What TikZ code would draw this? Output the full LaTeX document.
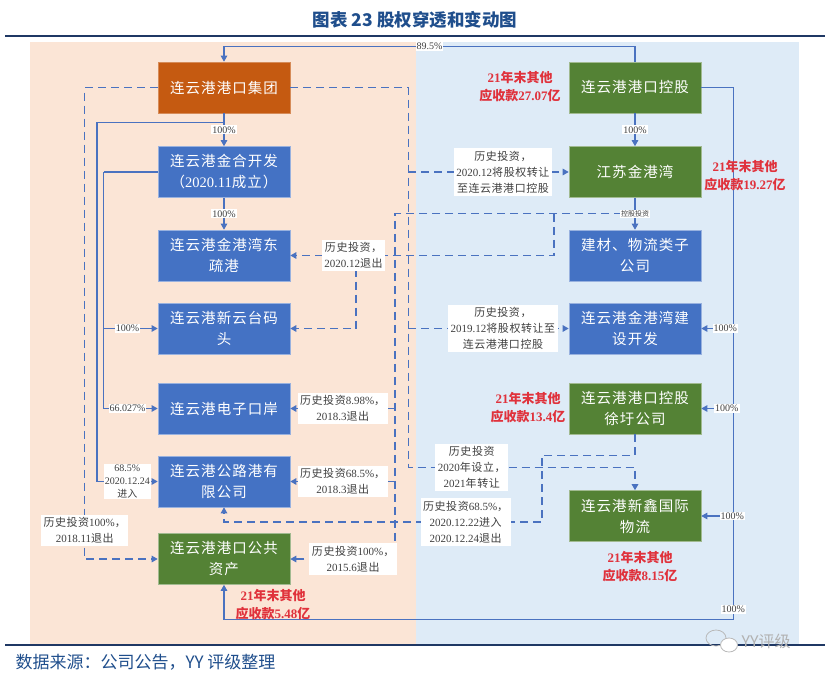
\documentclass[tikz,border=0pt]{standalone}
\usepackage{fontspec}
\setmainfont{Liberation Serif}
\setsansfont{Liberation Sans}
\newfontfamily\cjk{Noto Sans CJK SC}
\newfontfamily\cjkb{Noto Sans CJK SC}[LetterSpace=7]
\newfontfamily\cjkl{Noto Sans CJK SC}[LetterSpace=5]
\usetikzlibrary{arrows.meta,calc}
% automatic font switching for CJK characters
\newXeTeXintercharclass\CJKcls
\newcount\mycnt
\mycnt="4E00
\loop
  \XeTeXcharclass\mycnt=\CJKcls
  \ifnum\mycnt<"9FFF \advance\mycnt by 1
\repeat
\XeTeXcharclass"FF0C=\CJKcls
\XeTeXcharclass"3001=\CJKcls
\XeTeXcharclass"3002=\CJKcls
\XeTeXcharclass"FF08=\CJKcls
\XeTeXcharclass"FF09=\CJKcls
\XeTeXcharclass"FF1A=\CJKcls
\XeTeXinterchartoks 0 \CJKcls = {\cjk}
\XeTeXinterchartoks 4095 \CJKcls = {\cjk}
\XeTeXinterchartoks \CJKcls 0 = {\rmfamily}
\XeTeXinterchartoks 4095 0 = {\rmfamily}
\XeTeXinterchartokenstate=1
\definecolor{boxblue}{HTML}{4472C4}
\definecolor{boxgreen}{HTML}{548235}
\definecolor{boxorange}{HTML}{C55A11}
\definecolor{linkblue}{HTML}{4A72C0}
\definecolor{peach}{HTML}{FBE5D6}
\definecolor{paleblue}{HTML}{DEEBF7}
\definecolor{redtxt}{HTML}{E0323C}
\definecolor{navy}{HTML}{1F3864}
\definecolor{titleblue}{HTML}{1F4E8C}
\definecolor{lbltxt}{HTML}{404040}
\begin{document}
\begin{tikzpicture}[x=1pt,y=-1pt,
  ent/.style={minimum width=132pt,minimum height=51pt,inner sep=2pt,text=white,align=center,
    font=\fontsize{14.5}{21}\selectfont\let\cjk\cjkb},
  bluebox/.style={ent,fill=boxblue,draw=boxblue!55!white,line width=0.6pt},
  greenbox/.style={ent,fill=boxgreen,draw=boxgreen!55!white,line width=0.6pt},
  orangebox/.style={ent,fill=boxorange,draw=boxorange!70!white,line width=0.6pt},
  conn/.style={draw=linkblue,line width=1.1pt},
  dconn/.style={draw=linkblue,line width=1.3pt,dash pattern=on 8pt off 5pt},
  tip/.style={-{Triangle[width=6.5pt,length=6pt]}},
  lbl/.style={fill=white,inner sep=1pt,text=lbltxt,font=\fontsize{10}{13}\selectfont,align=center},
  hlbl/.style={lbl,inner sep=2.5pt,font=\fontsize{11}{16}\selectfont\let\cjk\cjkl},
  redlbl/.style={text=redtxt,font=\fontsize{13}{18}\selectfont\bfseries,align=center}
]
\useasboundingbox (0,0) rectangle (830,678);
% backgrounds and rules
\fill[peach] (30,42) rectangle (416,645);
\fill[paleblue] (416,42) rectangle (799,645);
\draw[navy,line width=2pt] (5,36) -- (825,36);
\draw[navy,line width=1.5pt] (5,645) -- (825,645);

% title and source
\node[text=titleblue] (title) at (415,20) {\XeTeXinterchartokenstate=0 \cjk\bfseries\fontsize{17.5}{20}\selectfont 图表 23 股权穿透和变动图};
\node[anchor=west,text=titleblue] (src) at (12,662) {\XeTeXinterchartokenstate=0 \cjk\fontsize{17}{20}\selectfont 数据来源：公司公告，YY 评级整理};
% watermark
\draw[gray!55,line width=0.8pt] (716,638) ellipse (10 and 8);
\draw[gray!55,line width=0.8pt,fill=white] (729,645) ellipse (8.5 and 7);
\node[anchor=west,text=gray!60] (wm) at (738,641) {\XeTeXinterchartokenstate=0 \cjk\fontsize{16}{18}\selectfont YY评级};

% boxes left
\node[orangebox] (grp)  at (224,87.5) {连云港港口集团};
\node[bluebox]   (jh)   at (224,172)  {连云港金合开发\\（2020.11成立）};
\node[bluebox]   (dsg)  at (224,255.5){连云港金港湾东\\疏港};
\node[bluebox]   (xyt)  at (224,328.5){连云港新云台码\\头};
\node[bluebox]   (dzka) at (224,408.5){连云港电子口岸};
\node[bluebox]   (glg)  at (224,481.5){连云港公路港有\\限公司};
\node[greenbox]  (ggzc) at (224,559)  {连云港港口公共\\资产};
% boxes right
\node[greenbox]  (kg)    at (635,87.5) {连云港港口控股};
\node[greenbox]  (jsjgw) at (635,172)  {江苏金港湾};
\node[bluebox]   (jc)    at (635,255.5){建材、物流类子\\公司};
\node[bluebox]   (jgwjs) at (635,328.5){连云港金港湾建\\设开发};
\node[greenbox]  (xw)    at (635,408.5){连云港港口控股\\徐圩公司};
\node[greenbox]  (xx)    at (635,516)  {连云港新鑫国际\\物流};

% coordinates
\coordinate (m)  at ($(jsjgw.south)!0.5!(jc.north)$);
\coordinate (X1) at ($(m)+(-240,0)$);
\coordinate (X2) at ($(m)+(-81,0)$);
\coordinate (L)  at ($(grp.east)+(118,0)$);
\coordinate (R)  at ($(kg.east)+(32,0)$);
\coordinate (gs) at ($(grp.south)+(0,9)$);
\coordinate (jw) at ($(jh.west)+(-54,0)$);
\coordinate (c1) at (542,522);

% dashed connectors
\draw[dconn,tip] (grp.west) -- ++(-73,0) |- (ggzc.west)
  node[pos=0.47,hlbl]{历史投资100\%，\\2018.11退出};
\draw[dconn,tip] (X2 |- dsg.east) ++(-198,0) |- (xyt.east);
\draw[dconn,tip] (X2) |- (dsg.east) node[pos=0.88,hlbl]{历史投资，\\2020.12退出};
\draw[dconn,tip] (m) -- (X1) |- (ggzc.east) node[pos=0.7,hlbl]{历史投资100\%，\\2015.6退出};
\draw[dconn,tip] (X1 |- dzka.east) -- (dzka.east) node[midway,hlbl]{历史投资8.98\%，\\2018.3退出};
\draw[dconn,tip] (X1 |- glg.east) -- (glg.east) node[midway,hlbl]{历史投资68.5\%，\\2018.3退出};
\draw[dconn,tip] (grp.east) -- (L) |- ($(xx.north)+(0,-23)$)
  node[pos=0.64,hlbl]{历史投资\\2020年设立，\\2021年转让} -- (xx.north);
\draw[dconn,tip] (L |- jsjgw.west) -- (jsjgw.west)
  node[pos=0.59,hlbl]{历史投资，\\2020.12将股权转让\\至连云港港口控股};
\draw[dconn,tip] (L |- jgwjs.west) -- (jgwjs.west)
  node[pos=0.59,hlbl]{历史投资，\\2019.12将股权转让至\\连云港港口控股};
\draw[dconn,tip] (xw.south) -- ++(0,21) -| (c1) -- (c1 -| glg.south)
  node[pos=0.24,hlbl]{历史投资68.5\%，\\2020.12.22进入\\2020.12.24退出} -- (glg.south);

% solid connectors
\draw[conn,tip] (kg.north) |- ($(grp.north)+(0,-15)$) node[pos=0.75,lbl]{89.5\%} -- (grp.north);
\draw[conn,tip] (grp.south) -- (jh.north) node[midway,lbl]{100\%};
\draw[conn,tip] (jh.south) -- (dsg.north) node[midway,lbl]{100\%};
\draw[conn,tip] (kg.south) -- (jsjgw.north) node[midway,lbl]{100\%};
\draw[conn,tip] (jsjgw.south) -- (jc.north) node[midway,lbl,font=\fontsize{7}{8}\selectfont]{控股投资};
\draw[conn,tip] (gs) -- ++(-127,0) |- (glg.west) node[pos=0.75,lbl]{68.5\%\\2020.12.24\\进入};
\draw[conn] (jh.west) -- (jw);
\draw[conn,tip] (jw) |- (dzka.west) node[pos=0.72,lbl]{66.027\%};
\draw[conn,tip] (jw) |- (xyt.west) node[pos=0.72,lbl]{100\%};
\draw[conn,tip] (kg.east) -- (R) |- ($(ggzc.south)+(0,35)$) node[pos=0.49,lbl]{100\%} -- (ggzc.south);
\draw[conn,tip] (R |- jgwjs.east) -- (jgwjs.east) node[pos=0.25,lbl]{100\%};
\draw[conn,tip] (R |- xw.east) -- (xw.east) node[pos=0.2,lbl]{100\%};
\draw[conn,tip] (R |- xx.east) -- (xx.east) node[pos=0.03,lbl]{100\%};

% red annotations
\node[redlbl] (r1) at (520,87)  {21年末其他\\应收款27.07亿};
\node[redlbl] (r2) at (745,176) {21年末其他\\应收款19.27亿};
\node[redlbl] (r3) at (528,408) {21年末其他\\应收款13.4亿};
\node[redlbl] (r4) at (640,567) {21年末其他\\应收款8.15亿};
\node[redlbl] (r5) at (273,605) {21年末其他\\应收款5.48亿};
\end{tikzpicture}
\end{document}
